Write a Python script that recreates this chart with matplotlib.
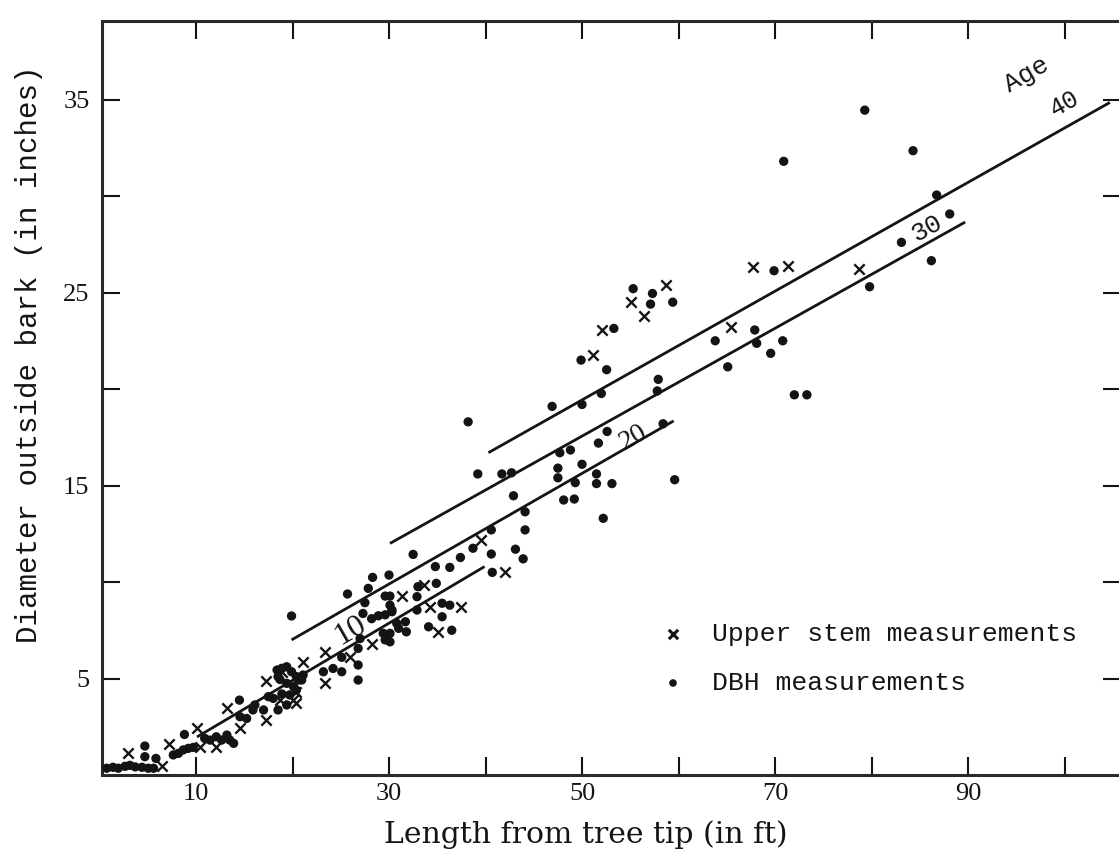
import numpy as np
import matplotlib.pyplot as plt

# --- data ---
# upper stem measurements (x markers): length from tip (ft), diameter (in)
upper_len = [2.98, 6.45, 7.2, 10.07, 10.4, 12.07, 13.2, 14.56, 17.3, 17.3,
             18.7, 20.1, 20.4, 20.4, 18.9, 21.1, 23.4, 23.4, 25.96, 28.2,
             31.3, 33.6, 34.25, 35.1, 37.5, 39.5, 42.0, 51.1, 52.1, 55.1,
             56.4, 58.7, 65.4, 67.75, 71.3, 78.7]
upper_dia = [1.12, 0.47, 1.6, 2.42, 1.47, 1.47, 3.45, 2.42, 4.85, 2.85,
             3.89, 3.89, 4.32, 3.75, 5.35, 5.87, 6.39, 4.75, 6.13, 6.77,
             9.27, 9.84, 8.72, 7.42, 8.72, 12.2, 10.5, 21.76, 23.06, 24.5,
             23.8, 25.4, 23.2, 26.3, 26.4, 26.2]

# DBH measurements (dots)
dbh_len = [0.75, 1.4, 1.95, 2.65, 3.15, 3.7, 4.4, 5.05, 5.6,
           4.7, 4.7, 5.85, 8.8, 7.65, 8.17, 8.68, 9.2, 9.72,
           10.9, 11.45, 12.1, 12.66, 13.2, 13.5, 13.9,
           14.5, 14.56, 15.25, 15.9, 17.0, 17.5, 18.0,
           18.4, 18.9, 19.4, 19.9, 18.5, 20.4, 20.6, 21.1,
           18.7, 19.4, 20.1, 20.95, 19.7, 18.9, 19.4, 18.5, 20.4, 16.1,
           19.9, 23.2, 24.2, 25.1, 25.1, 26.8, 26.8, 27.0, 26.8,
           25.7, 27.85, 28.3, 30.0, 27.5, 29.6, 30.1, 30.1, 30.3,
           27.3, 28.2, 28.9, 29.6, 30.3,
           30.8, 31.7, 31.0, 30.1, 29.4, 30.1, 31.8, 29.6,
           32.5, 34.8, 36.3, 37.4, 38.7, 34.9, 33.0, 32.9,
           35.5, 36.3, 35.5, 32.9, 34.1, 36.5,
           38.2, 39.2, 41.7, 42.7, 42.9, 44.1, 44.1, 43.1, 43.9,
           40.6, 40.6, 40.7,
           55.3, 57.3, 57.1, 59.4, 53.3, 49.9, 52.55, 52.0, 50.0, 46.9,
           57.9, 57.8, 58.4, 52.6, 51.7, 47.7, 48.8, 50.0, 47.5, 47.5,
           49.3, 51.5, 51.5, 53.1, 48.1, 49.2, 59.6, 52.2,
           79.3, 70.9, 84.3, 86.75, 88.1, 83.1, 86.2, 79.8, 69.9,
           63.8, 67.9, 68.1, 65.1, 69.55, 70.8, 72.0, 73.3]
dbh_dia = [0.35, 0.4, 0.35, 0.45, 0.5, 0.42, 0.4, 0.35, 0.35,
           1.5, 0.95, 0.86, 2.1, 1.04, 1.12, 1.3, 1.38, 1.43,
           1.9, 1.81, 1.98, 1.81, 2.07, 1.81, 1.64,
           3.88, 3.02, 2.93, 3.37, 3.37, 4.06, 3.97,
           5.44, 5.53, 5.61, 5.35, 5.1, 5.1, 4.92, 5.18,
           4.95, 4.75, 4.58, 4.92, 4.15, 4.2, 3.63, 3.37, 4.4, 3.63,
           8.24, 5.35, 5.52, 5.35, 6.1, 4.92, 6.56, 7.07, 5.7,
           9.38, 9.67, 10.24, 10.36, 8.93, 9.27, 9.27, 8.8, 8.46,
           8.37, 8.1, 8.25, 8.3, 8.55,
           7.86, 7.94, 7.6, 7.34, 7.34, 6.9, 7.42, 7.0,
           11.43, 10.8, 10.76, 11.27, 11.75, 9.93, 9.76, 9.24,
           8.9, 8.8, 8.2, 8.55, 7.68, 7.5,
           18.3, 15.6, 15.6, 15.66, 14.47, 13.64, 12.7, 11.7, 11.2,
           12.7, 11.45, 10.5,
           25.2, 24.95, 24.4, 24.5, 23.14, 21.5, 21.0, 19.77, 19.2, 19.1,
           20.5, 19.9, 18.2, 17.8, 17.2, 16.7, 16.84, 16.1, 15.9, 15.4,
           15.15, 15.6, 15.1, 15.1, 14.25, 14.3, 15.3, 13.3,
           34.45, 31.8, 32.35, 30.05, 29.07, 27.6, 26.65, 25.3, 26.13,
           22.5, 23.06, 22.37, 21.15, 21.85, 22.5, 19.7, 19.7]

# age lines: start / end points
ages = ['10', '20', '30', '40']
age_x0 = [10.1, 19.9, 30.1, 40.3]
age_y0 = [1.97, 7.0, 12.0, 16.7]
age_x1 = [39.9, 59.5, 89.7, 104.7]
age_y1 = [10.8, 18.35, 28.65, 34.85]

x_ticks = np.arange(10, 101, 10)
x_labels = ['10', '', '30', '', '50', '', '70', '', '90', '']
y_ticks = np.arange(5, 36, 5)
y_labels = ['5', '', '15', '', '25', '', '35']

INK = '#141414'
MONO = 'Liberation Mono'
SERIF = 'Liberation Serif'

fig = plt.figure(figsize=(11.19, 8.55), dpi=100)
ax = fig.add_axes([102 / 1119, 80 / 855, 1019 / 1119, 754 / 855])

ax.scatter(upper_len, upper_dia, marker='x', s=55, linewidths=1.7, color=INK, zorder=3)
ax.scatter(dbh_len, dbh_dia, marker='o', s=45, color=INK, edgecolors='none', zorder=3)

for x0, y0, x1, y1 in zip(age_x0, age_y0, age_x1, age_y1):
    ax.plot([x0, x1], [y0, y1], color=INK, lw=2.0, solid_capstyle='butt', zorder=2)

# line labels
ax.text(25.96, 7.5, ages[0], fontsize=23, family=SERIF, rotation=30, ha='center', va='center', color=INK)
ax.text(55.3, 17.5, ages[1], fontsize=20, family=SERIF, rotation=30, ha='center', va='center', color=INK)
ax.text(85.75, 28.35, ages[2], fontsize=19, family=MONO, rotation=29, ha='center', va='center', color=INK)
ax.text(100.0, 34.8, ages[3], fontsize=18, family=MONO, rotation=29, ha='center', va='center', color=INK)
ax.text(96.1, 36.3, 'Age', fontsize=19, family=MONO, rotation=30, ha='center', va='center', color=INK)

ax.set_xlim(0.26, 105.85)
ax.set_ylim(0, 39.07)

ax.set_xticks(x_ticks)
ax.set_xticklabels(x_labels, fontsize=19, family=SERIF)
ax.set_yticks(y_ticks)
ax.set_yticklabels(y_labels, fontsize=19, family=SERIF)
ax.tick_params(direction='in', length=13, width=1.5, colors=INK,
               top=True, right=True, pad=6)
ax.tick_params(axis='y', pad=9)

for sp in ax.spines.values():
    sp.set_linewidth(2.2)
    sp.set_color('#2a2a2a')

ax.set_xlabel('Length from tree tip (in ft)', fontsize=21.5, family='DejaVu Serif', color=INK)
ax.xaxis.set_label_coords(0.475, -0.06)
ax.set_ylabel('Diameter outside bark (in inches)', fontsize=21, family=MONO, color=INK)
ax.yaxis.set_label_coords(-0.058, 0.558)

# legend drawn as text, like the original
leg_x = (673 - 102) / 1019
ax.scatter([leg_x], [(775 - 634) / 754], marker='x', s=45, linewidths=2.2, color=INK,
           transform=ax.transAxes, clip_on=False)
ax.scatter([leg_x], [(775 - 683) / 754], marker='o', s=30, color=INK, edgecolors='none',
           transform=ax.transAxes, clip_on=False)
ax.text((712 - 102) / 1019, (775 - 634) / 754, 'Upper stem measurements', fontsize=19,
        family=MONO, transform=ax.transAxes, va='center', color=INK)
ax.text((712 - 102) / 1019, (775 - 683) / 754, 'DBH measurements', fontsize=19,
        family=MONO, transform=ax.transAxes, va='center', color=INK)

fig.savefig('out.png', dpi=100)
